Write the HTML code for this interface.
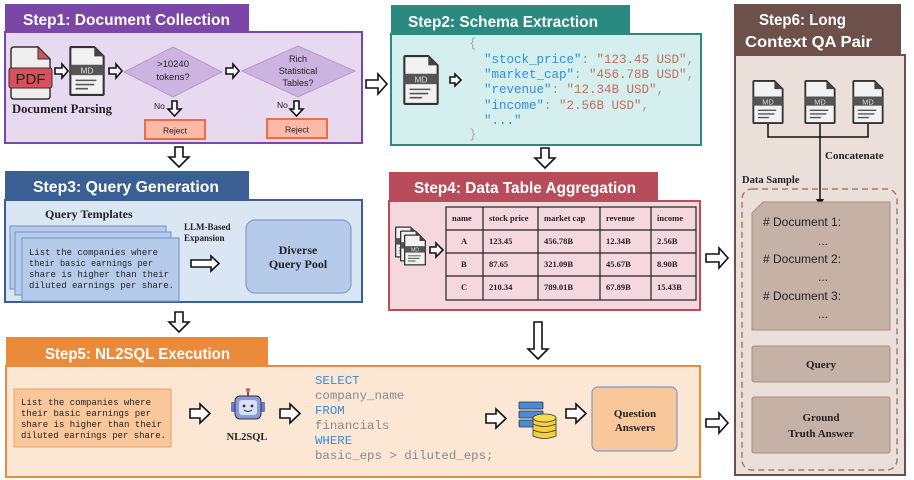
<!DOCTYPE html>
<html><head><meta charset="utf-8"><style>
html,body{margin:0;padding:0;background:#fff;}
svg{display:block;}
.h{font-family:"Liberation Sans",sans-serif;font-weight:bold;fill:#fff;font-size:15.5px;}
.s{font-family:"Liberation Serif",serif;font-weight:bold;}
.m{font-family:"Liberation Mono",monospace;}
.a{fill:#fff;stroke:#111;stroke-width:1.6;stroke-linejoin:miter;}
</style></head><body>
<svg width="914" height="480" viewBox="0 0 914 480" xmlns="http://www.w3.org/2000/svg">
<defs>
<symbol id="md" viewBox="0 0 34 48">
<path d="M2,1 H24 L33,10 V46 Q33,47 32,47 H2 Q1,47 1,46 V2 Q1,1 2,1 Z" fill="#f2f2f2" stroke="#333" stroke-width="2"/>
<path d="M24,1 L33,10 H24 Z" fill="#444"/>
<rect x="1" y="18" width="32" height="10" fill="#555"/>
<text x="17" y="26.5" font-family="Liberation Sans,sans-serif" font-size="8" fill="#ddd" text-anchor="middle">MD</text>
<path d="M6,33 H26 M6,37 H24 M6,41 H18" stroke="#555" stroke-width="1.5"/>
</symbol>
</defs>
<rect width="914" height="480" fill="#fff"/>

<!-- Step1 -->
<rect x="5" y="32" width="357" height="111" fill="#e6d9f0" stroke="#7b47a6" stroke-width="2"/>
<rect x="5" y="4" width="244" height="29" fill="#7b47a6"/>
<text class="h" x="23" y="25" textLength="207" lengthAdjust="spacingAndGlyphs">Step1: Document Collection</text>
<path d="M14,47 H38 L50,59 V96 Q50,99 47,99 H14 Q11,99 11,96 V50 Q11,47 14,47 Z" fill="#eee" stroke="#333" stroke-width="1.5"/>
<path d="M38,47 L50,59 H38 Z" fill="#d9505a" stroke="#333" stroke-width="1"/>
<rect x="9" y="68" width="43" height="20" rx="2" fill="#d9505a" stroke="#333" stroke-width="1"/>
<text x="30.5" y="84" font-family="Liberation Sans,sans-serif" font-size="15" fill="#222" text-anchor="middle">PDF</text>
<text class="s" x="12" y="113" font-size="13" fill="#222" textLength="100" lengthAdjust="spacingAndGlyphs">Document Parsing</text>
<use href="#md" x="69" y="46" width="36" height="50"/>
<polygon class="a" points="55,68 62,68 62,64 68,71 62,78 62,74 55,74"/>
<polygon class="a" points="109,68 116,68 116,64 122,71 116,78 116,74 109,74"/>
<polygon points="124,72 173,47 222,72 173,97" fill="#cdb3df" stroke="#b89acc" stroke-width="1"/>
<text x="173" y="67" font-family="Liberation Sans,sans-serif" font-size="9.5" text-anchor="middle" fill="#222">&gt;10240</text>
<text x="173" y="80" font-family="Liberation Sans,sans-serif" font-size="9.5" text-anchor="middle" fill="#222">tokens?</text>
<polygon class="a" points="226,68 233,68 233,64 239,71 233,78 233,74 226,74"/>
<polygon points="242,71 298,46 355,71 298,97" fill="#cdb3df" stroke="#b89acc" stroke-width="1"/>
<text x="298" y="62" font-family="Liberation Sans,sans-serif" font-size="9" text-anchor="middle" fill="#222">Rich</text>
<text x="298" y="74" font-family="Liberation Sans,sans-serif" font-size="9" text-anchor="middle" fill="#222">Statistical</text>
<text x="298" y="86" font-family="Liberation Sans,sans-serif" font-size="9" text-anchor="middle" fill="#222">Tables?</text>
<text x="154" y="109" font-family="Liberation Sans,sans-serif" font-size="8.5" fill="#222">No</text>
<polygon class="a" points="172,101 177,101 177,109 181,109 174.5,116 168,109 172,109"/>
<text x="277" y="108" font-family="Liberation Sans,sans-serif" font-size="8.5" fill="#222">No</text>
<polygon class="a" points="294,101 299,101 299,109 303,109 296.5,116 290,109 294,109"/>
<rect x="145" y="120" width="60" height="19" fill="#fbb9a7" stroke="#f06a46" stroke-width="2"/>
<text x="175" y="133.5" font-family="Liberation Sans,sans-serif" font-size="8.5" text-anchor="middle" fill="#222">Reject</text>
<rect x="267" y="119" width="60" height="19" fill="#fbb9a7" stroke="#f06a46" stroke-width="2"/>
<text x="297" y="132.5" font-family="Liberation Sans,sans-serif" font-size="8.5" text-anchor="middle" fill="#222">Reject</text>

<polygon class="a" points="366,80 378,80 378,74 387,84 378,94 378,88 366,88"/>
<polygon class="a" points="175,147 183,147 183,157 189,157 179,167 169,157 175,157"/>

<!-- Step2 -->
<rect x="391" y="34" width="310" height="111" fill="#d5eeee" stroke="#2a8a80" stroke-width="2"/>
<rect x="391" y="5" width="239" height="30" fill="#2a8a80"/>
<text class="h" x="408" y="27" textLength="190" lengthAdjust="spacingAndGlyphs">Step2: Schema Extraction</text>
<use href="#md" x="403" y="55" width="36" height="50"/>
<polygon class="a" points="450,77 455,77 455,74 461,80 455,86 455,83 450,83"/>
<g class="m" font-size="12.5">
<text x="469" y="47" fill="#aaa">{</text>
<text x="484" y="63"><tspan fill="#2f8fe0">"stock_price"</tspan><tspan fill="#999">: </tspan><tspan fill="#c0705a">"123.45 USD"</tspan><tspan fill="#999">,</tspan></text>
<text x="484" y="78"><tspan fill="#2f8fe0">"market_cap"</tspan><tspan fill="#999">: </tspan><tspan fill="#c0705a">"456.78B USD"</tspan><tspan fill="#999">,</tspan></text>
<text x="484" y="93"><tspan fill="#2f8fe0">"revenue"</tspan><tspan fill="#999">: </tspan><tspan fill="#c0705a">"12.34B USD"</tspan><tspan fill="#999">,</tspan></text>
<text x="484" y="109"><tspan fill="#2f8fe0">"income"</tspan><tspan fill="#999">: </tspan><tspan fill="#c0705a">"2.56B USD"</tspan><tspan fill="#999">,</tspan></text>
<text x="484" y="124" fill="#2f8fe0">"..."</text>
<text x="469" y="138" fill="#aaa">}</text>
</g>
<polygon class="a" points="541,148 549,148 549,158 555,158 545,168 535,158 541,158"/>

<!-- Step6 -->
<rect x="735" y="55" width="170" height="420" fill="#ebe0d9" stroke="#6d5049" stroke-width="2"/>
<rect x="734" y="4" width="167" height="52" fill="#6d5049"/>
<text class="h" x="759" y="25" textLength="87" lengthAdjust="spacingAndGlyphs">Step6: Long</text>
<text class="h" x="745" y="47" textLength="127" lengthAdjust="spacingAndGlyphs">Context QA Pair</text>
<use href="#md" x="752" y="80" width="32" height="44"/>
<use href="#md" x="804" y="80" width="32" height="44"/>
<use href="#md" x="852" y="80" width="32" height="44"/>
<path d="M768,124 V137 H868 V124 M820,124 V200" fill="none" stroke="#111" stroke-width="1.5"/>
<polygon points="816,199 824,199 820,206" fill="#111"/>
<text class="s" x="825" y="159" font-size="11" fill="#222">Concatenate</text>
<text class="s" x="742" y="183" font-size="10.5" fill="#222">Data Sample</text>
<rect x="742" y="189" width="155" height="281" rx="10" fill="none" stroke="#a08070" stroke-width="1.5" stroke-dasharray="6,4"/>
<path d="M763,202 H890 V330 H752 V213 Z" fill="#c6b1a6" stroke="#a89080" stroke-width="1"/>
<g font-family="Liberation Sans,sans-serif" font-size="12" fill="#222">
<text x="763" y="226">#&#160;Document 1:</text>
<text x="818" y="245">...</text>
<text x="763" y="263">#&#160;Document 2:</text>
<text x="818" y="281">...</text>
<text x="763" y="300">#&#160;Document 3:</text>
<text x="818" y="318">...</text>
</g>
<rect x="752" y="346" width="138" height="36" rx="2" fill="#c6b1a6" stroke="#a89080"/>
<text class="s" x="821" y="368" font-size="11" text-anchor="middle" fill="#222">Query</text>
<rect x="752" y="397" width="138" height="56" rx="2" fill="#c6b1a6" stroke="#a89080"/>
<text class="s" x="821" y="421" font-size="11" text-anchor="middle" fill="#222">Ground</text>
<text class="s" x="821" y="437" font-size="11" text-anchor="middle" fill="#222">Truth Answer</text>

<!-- Step3 -->
<rect x="5" y="200" width="357" height="102" fill="#dbe6f5" stroke="#3a5f94" stroke-width="2"/>
<rect x="5" y="171" width="244" height="30" fill="#3a5f94"/>
<text class="h" x="33" y="192" textLength="186" lengthAdjust="spacingAndGlyphs">Step3: Query Generation</text>
<text class="s" x="45" y="218" font-size="12" fill="#222">Query Templates</text>
<rect x="10" y="226" width="156" height="63" fill="#b6cbea" stroke="#7d9cc8" stroke-width="1.2"/>
<rect x="15" y="232" width="156" height="63" fill="#b6cbea" stroke="#7d9cc8" stroke-width="1.2"/>
<rect x="22" y="238" width="157" height="63" fill="#b6cbea" stroke="#7d9cc8" stroke-width="1.2"/>
<g class="m" font-size="9.5" fill="#222">
<text x="29" y="255" textLength="129" lengthAdjust="spacingAndGlyphs">List the companies where</text>
<text x="29" y="266" textLength="124" lengthAdjust="spacingAndGlyphs">their basic earnings per</text>
<text x="29" y="277" textLength="140" lengthAdjust="spacingAndGlyphs">share is higher than their</text>
<text x="29" y="288" textLength="145" lengthAdjust="spacingAndGlyphs">diluted earnings per share.</text>
</g>
<text class="s" x="184" y="230" font-size="9" fill="#222">LLM-Based</text>
<text class="s" x="184" y="241" font-size="9" fill="#222">Expansion</text>
<polygon class="a" points="191,260 211,260 211,256 219,263.5 211,271 211,267 191,267"/>
<rect x="246" y="220" width="105" height="73" rx="9" fill="#b6cbea" stroke="#7d9cc8" stroke-width="1.2"/>
<text class="s" x="298" y="254" font-size="12" text-anchor="middle" fill="#222">Diverse</text>
<text class="s" x="298" y="268" font-size="12" text-anchor="middle" fill="#222">Query Pool</text>
<polygon class="a" points="175,312 183,312 183,322 189,322 179,332 169,322 175,322"/>

<!-- Step4 -->
<rect x="389" y="201" width="311" height="109" fill="#f5d8dd" stroke="#b94c5a" stroke-width="2"/>
<rect x="389" y="172" width="269" height="30" fill="#b94c5a"/>
<text class="h" x="414" y="193" textLength="222" lengthAdjust="spacingAndGlyphs">Step4: Data Table Aggregation</text>
<use href="#md" x="395" y="226" width="22" height="32"/>
<use href="#md" x="400" y="230" width="22" height="32"/>
<use href="#md" x="404" y="234" width="22" height="32"/>
<polygon class="a" points="430,247 436,247 436,243 443,250 436,257 436,253 430,253"/>
<g stroke="#222" stroke-width="1.2" fill="none">
<rect x="446" y="207" width="250" height="93"/>
<path d="M446,230 H696 M446,253 H696 M446,276 H696 M483,207 V300 M538,207 V300 M600,207 V300 M651,207 V300"/>
</g>
<g class="s" font-size="8.5" fill="#222">
<text x="452" y="221">name</text><text x="489" y="221">stock price</text><text x="544" y="221">market cap</text><text x="606" y="221">revenue</text><text x="657" y="221">income</text>
<text x="461" y="244">A</text><text x="489" y="244">123.45</text><text x="544" y="244">456.78B</text><text x="606" y="244">12.34B</text><text x="657" y="244">2.56B</text>
<text x="461" y="267">B</text><text x="489" y="267">87.65</text><text x="544" y="267">321.09B</text><text x="606" y="267">45.67B</text><text x="657" y="267">8.90B</text>
<text x="461" y="290">C</text><text x="489" y="290">210.34</text><text x="544" y="290">789.01B</text><text x="606" y="290">67.89B</text><text x="657" y="290">15.43B</text>
</g>
<polygon class="a" points="706,254 719,254 719,248 728,258 719,268 719,262 706,262"/>
<polygon class="a" points="534,322 542,322 542,349 548,349 538,359 528,349 534,349"/>

<!-- Step5 -->
<rect x="6" y="366" width="694" height="111" fill="#fce6d4" stroke="#e98b3b" stroke-width="2"/>
<rect x="6" y="337" width="262" height="30" fill="#e98b3b"/>
<text class="h" x="45" y="359" textLength="185" lengthAdjust="spacingAndGlyphs">Step5: NL2SQL Execution</text>
<rect x="14" y="389" width="157" height="58" fill="#f9c79b" stroke="#f0a060"/>
<g class="m" font-size="9" fill="#222">
<text x="21" y="405" textLength="130" lengthAdjust="spacingAndGlyphs">List the companies where</text>
<text x="21" y="416" textLength="130" lengthAdjust="spacingAndGlyphs">their basic earnings per</text>
<text x="21" y="427" textLength="141" lengthAdjust="spacingAndGlyphs">share is higher than their</text>
<text x="21" y="438" textLength="145" lengthAdjust="spacingAndGlyphs">diluted earnings per share.</text>
</g>
<polygon class="a" points="190,409 200,409 200,404 210,413.5 200,423 200,418 190,418"/>
<line x1="248" y1="390" x2="248" y2="396" stroke="#333" stroke-width="1.5"/>
<circle cx="248" cy="390" r="2" fill="#e05a6a"/>
<rect x="231" y="402" width="4" height="10" rx="1" fill="#6a7ad0"/>
<rect x="261" y="402" width="4" height="10" rx="1" fill="#6a7ad0"/>
<rect x="235" y="396" width="26" height="23" rx="5" fill="#8a9ae0" stroke="#333" stroke-width="1"/>
<rect x="239" y="400" width="18" height="15" rx="3" fill="#d8e0f8"/>
<circle cx="244" cy="406" r="1.4" fill="#333"/><circle cx="252" cy="406" r="1.4" fill="#333"/>
<path d="M244,410 Q248,413 252,410" stroke="#333" fill="none"/>
<text class="s" x="247" y="440" font-size="10.5" text-anchor="middle" fill="#222">NL2SQL</text>
<polygon class="a" points="280,409 290,409 290,404 300,413.5 290,423 290,418 280,418"/>
<g class="m" font-size="12.4">
<text x="315" y="384" fill="#3a8ad8">SELECT</text>
<text x="315" y="399" fill="#888">company_name</text>
<text x="315" y="414" fill="#3a8ad8">FROM</text>
<text x="315" y="429" fill="#888">financials</text>
<text x="315" y="444" fill="#3a8ad8">WHERE</text>
<text x="315" y="459" fill="#888">basic_eps &gt; diluted_eps;</text>
</g>
<polygon class="a" points="486,414 496,414 496,409 506,418.5 496,428 496,423 486,423"/>
<rect x="519" y="402" width="24" height="7" rx="1" fill="#4a8ad8" stroke="#333" stroke-width="0.8"/>
<rect x="519" y="411" width="24" height="7" rx="1" fill="#4a8ad8" stroke="#333" stroke-width="0.8"/>
<rect x="519" y="420" width="24" height="7" rx="1" fill="#4a8ad8" stroke="#333" stroke-width="0.8"/>
<path d="M533,418 V436 Q544,441 556,436 V418" fill="#f4d040" stroke="#333" stroke-width="0.8"/>
<ellipse cx="544.5" cy="418" rx="11.5" ry="4" fill="#f8dc50" stroke="#333" stroke-width="0.8"/>
<path d="M533,424 Q544,429 556,424 M533,430 Q544,435 556,430" fill="none" stroke="#333" stroke-width="0.8"/>
<polygon class="a" points="566,409 576,409 576,404 586,413.5 576,423 576,418 566,418"/>
<rect x="592" y="387" width="85" height="64" rx="6" fill="#f8c89a" stroke="#7d9cc8" stroke-width="1.2"/>
<text class="s" x="635" y="417" font-size="11" text-anchor="middle" fill="#222">Question</text>
<text class="s" x="635" y="431" font-size="11" text-anchor="middle" fill="#222">Answers</text>
<polygon class="a" points="706,419 719,419 719,413 728,423 719,433 719,427 706,427"/>
</svg>
</body></html>
